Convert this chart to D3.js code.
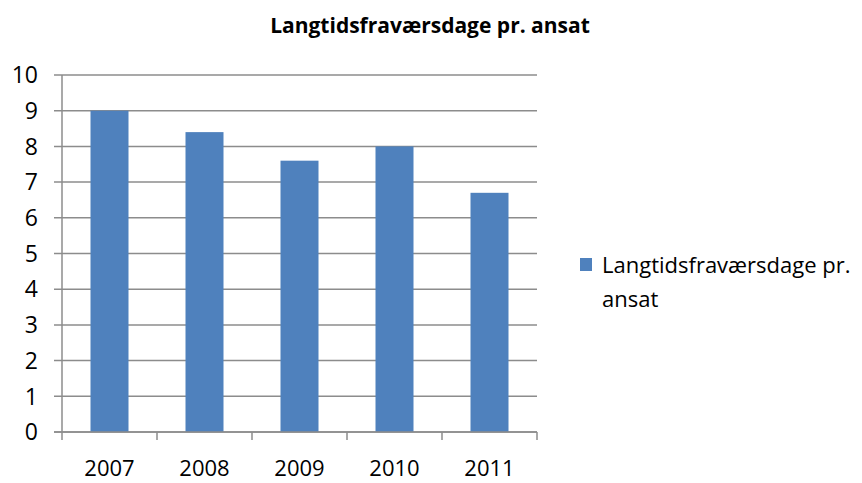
<!DOCTYPE html>
<html>
<head>
<meta charset="utf-8">
<script src="https://cdn.jsdelivr.net/npm/d3@7"></script>
<style>
  body { margin: 0; background: #fff; }
  svg text { font-family: "Open Sans", "Liberation Sans", sans-serif; fill: #000; }
</style>
</head>
<body>
<div id="app"></div>
<script>
const years = ['2007', '2008', '2009', '2010', '2011']
const values = [9, 8.4, 7.6, 8, 6.7]
const yTicks = [0, 1, 2, 3, 4, 5, 6, 7, 8, 9, 10]
const chartTitle = 'Langtidsfraværsdage pr. ansat'
const seriesName = ['Langtidsfraværsdage pr.', 'ansat']

const size = { width: 862, height: 483 }
const plot = { left: 62, right: 537, top: 75, bottom: 432 }
const barColor = '#4F81BD'
const gridColor = '#8c8c8c'

const svg = d3.select('#app')
  .append('svg')
  .attr('width', size.width)
  .attr('height', size.height)

const x = d3.scaleBand()
  .domain(years)
  .range([plot.left, plot.right])
  .paddingInner(0.6)
  .paddingOuter(0.3)

const y = d3.scaleLinear()
  .domain([0, 10])
  .range([plot.bottom, plot.top])

// gridlines + y tick marks
svg.append('g')
  .selectAll('line')
  .data(yTicks)
  .join('line')
  .attr('x1', plot.left - 8)
  .attr('x2', plot.right)
  .attr('y1', d => y(d))
  .attr('y2', d => y(d))
  .attr('stroke', gridColor)
  .attr('stroke-width', 1.5)

svg.append('g')
  .selectAll('text')
  .data(yTicks)
  .join('text')
  .attr('x', 38)
  .attr('y', d => y(d))
  .attr('dy', '0.36em')
  .attr('text-anchor', 'end')
  .attr('font-size', 23)
  .text(d => d)

// bars
svg.append('g')
  .selectAll('rect')
  .data(values)
  .join('rect')
  .attr('x', (d, i) => x(years[i]))
  .attr('y', d => y(d))
  .attr('width', x.bandwidth())
  .attr('height', d => y(0) - y(d))
  .attr('fill', barColor)

// axes lines
svg.append('line')
  .attr('x1', plot.left).attr('x2', plot.left)
  .attr('y1', plot.top).attr('y2', plot.bottom)
  .attr('stroke', gridColor).attr('stroke-width', 1.5)

svg.append('line')
  .attr('x1', plot.left - 8).attr('x2', plot.right)
  .attr('y1', plot.bottom).attr('y2', plot.bottom)
  .attr('stroke', gridColor).attr('stroke-width', 1.5)

// category tick marks at band edges
const edges = years.map(d => x(d) - x.step() * x.paddingOuter()).concat([plot.right])
svg.append('g')
  .selectAll('line')
  .data(edges)
  .join('line')
  .attr('x1', d => d).attr('x2', d => d)
  .attr('y1', plot.bottom).attr('y2', plot.bottom + 8)
  .attr('stroke', gridColor).attr('stroke-width', 1.5)

svg.append('g')
  .selectAll('text')
  .data(years)
  .join('text')
  .attr('x', d => x(d) + x.bandwidth() / 2)
  .attr('y', 476)
  .attr('text-anchor', 'middle')
  .attr('font-size', 22)
  .text(d => d)

// title
svg.append('text')
  .attr('x', 430)
  .attr('y', 33)
  .attr('text-anchor', 'middle')
  .attr('font-size', 21)
  .attr('font-weight', 'bold')
  .text(chartTitle)

// legend
const legend = svg.append('g').attr('transform', 'translate(580,258)')
legend.append('rect')
  .attr('width', 12).attr('height', 13)
  .attr('fill', barColor)
legend.selectAll('text')
  .data(seriesName)
  .join('text')
  .attr('x', 22)
  .attr('y', (d, i) => 15 + i * 34)
  .attr('font-size', 22)
  .text(d => d)
</script>
</body>
</html>
